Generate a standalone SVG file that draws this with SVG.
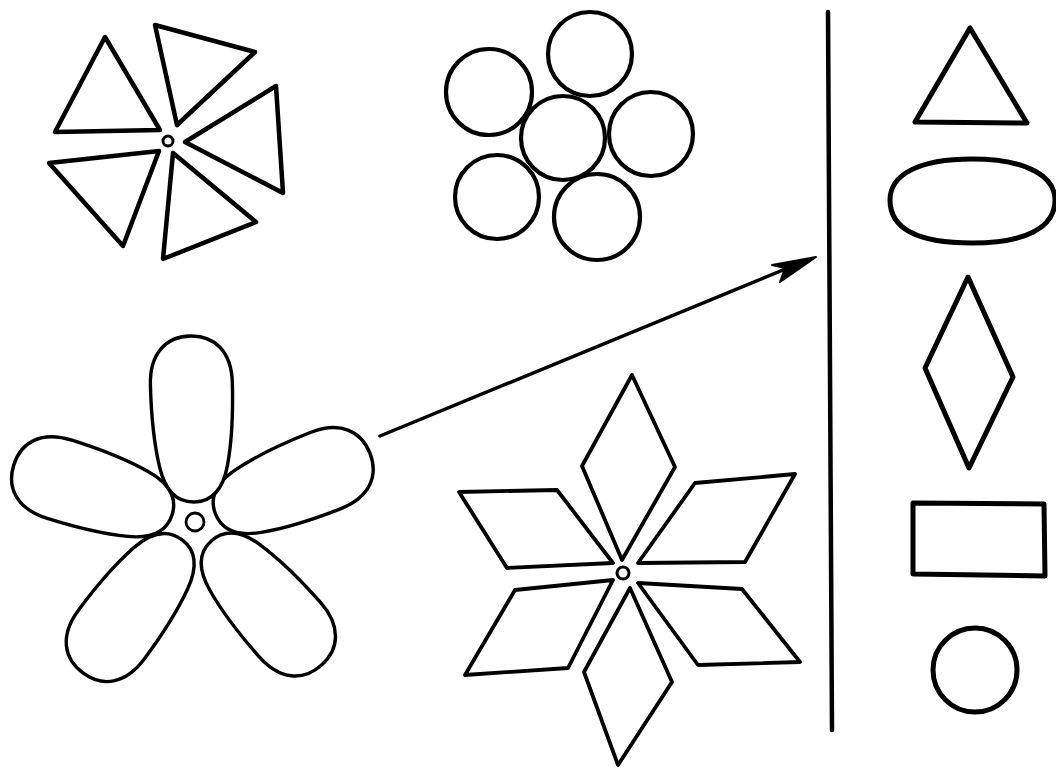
<svg xmlns="http://www.w3.org/2000/svg" width="1056" height="769" viewBox="0 0 1056 769">
<style>
.s{fill:none;stroke:#000;stroke-linejoin:round;stroke-linecap:round}
.t{stroke-width:4.5}
.c{stroke-width:4.2}
.f{fill:#fff;stroke:#000;stroke-width:3.4;stroke-linejoin:round}
.d{stroke-width:3.8}
.r{stroke-width:5}
</style>
<defs>
<path id="petal" d="M0,0 C0,-18 12,-29 36,-34 C60,-39 90,-41 118,-41 C150,-41 166,-24 166,0 C166,24 150,41 118,41 C90,41 60,39 36,34 C12,29 0,18 0,0 Z"/>
</defs>
<rect width="1056" height="769" fill="#fff"/>
<g id="pinwheel" class="s t">
<polygon points="105,37 55,132 160,130"/>
<polygon points="155,25 255,52 177,125"/>
<polygon points="276,86 283,193 185,142"/>
<polygon points="173,153 256,222 163,259"/>
<polygon points="49,163 159,151 123,246"/>
<circle cx="168" cy="141" r="5" stroke-width="3"/>
</g>
<g id="circles" class="s c">
<circle cx="590" cy="54" r="42"/>
<circle cx="489" cy="92" r="43"/>
<circle cx="563" cy="138" r="42"/>
<circle cx="651" cy="134" r="42"/>
<circle cx="497" cy="197" r="42"/>
<circle cx="597" cy="217" r="43"/>
</g>
<g id="flower" class="f">
<use href="#petal" transform="translate(195 522) rotate(126.6) translate(22 0)"/>
<use href="#petal" transform="translate(195 522) rotate(48.6) translate(25 0)"/>
<use href="#petal" transform="translate(195 522) rotate(-162.5) translate(24 0)"/>
<use href="#petal" transform="translate(195 522) rotate(-21.5) translate(22 0)"/>
<use href="#petal" transform="translate(195 522) rotate(-91.5) translate(20 0)"/>
<circle cx="195" cy="522" r="9" stroke-width="2.8"/>
</g>
<g id="star" class="s d">
<polygon points="632,375 675,467 622,560 582,466"/>
<polygon points="459,492 557,490 613,563 507,568"/>
<polygon points="695,483 795,474 745,562 638,563"/>
<polygon points="515,590 613,580 568,668 465,675"/>
<polygon points="638,583 742,589 800,662 698,665"/>
<polygon points="630,588 672,682 618,765 584,672"/>
<circle cx="623" cy="573" r="6" stroke-width="3"/>
</g>
<g id="divider" class="s">
<line x1="828" y1="12" x2="832" y2="730" stroke-width="4.5"/>
</g>
<g id="shapes" class="s r">
<polygon points="970,28 915,122 1027,123"/>
<path d="M972,159 C1030,159 1055,178 1055,200 C1055,228 1025,243 972,243 C915,243 890,228 890,200 C890,175 918,159 972,159 Z"/>
<polygon points="968,277 1013,377 969,468 925,368"/>
<polygon points="913,503 1044,504 1045,576 913,574"/>
<circle cx="975" cy="670" r="42"/>
</g>
<g id="connectors">
<line x1="380" y1="436" x2="800" y2="263" stroke="#000" stroke-width="3.5" stroke-linecap="round"/>
<path d="M816,257 L772,265 L785,268 L780,282 Z" fill="#000" stroke="#000" stroke-width="2" stroke-linejoin="round"/>
</g>
</svg>
